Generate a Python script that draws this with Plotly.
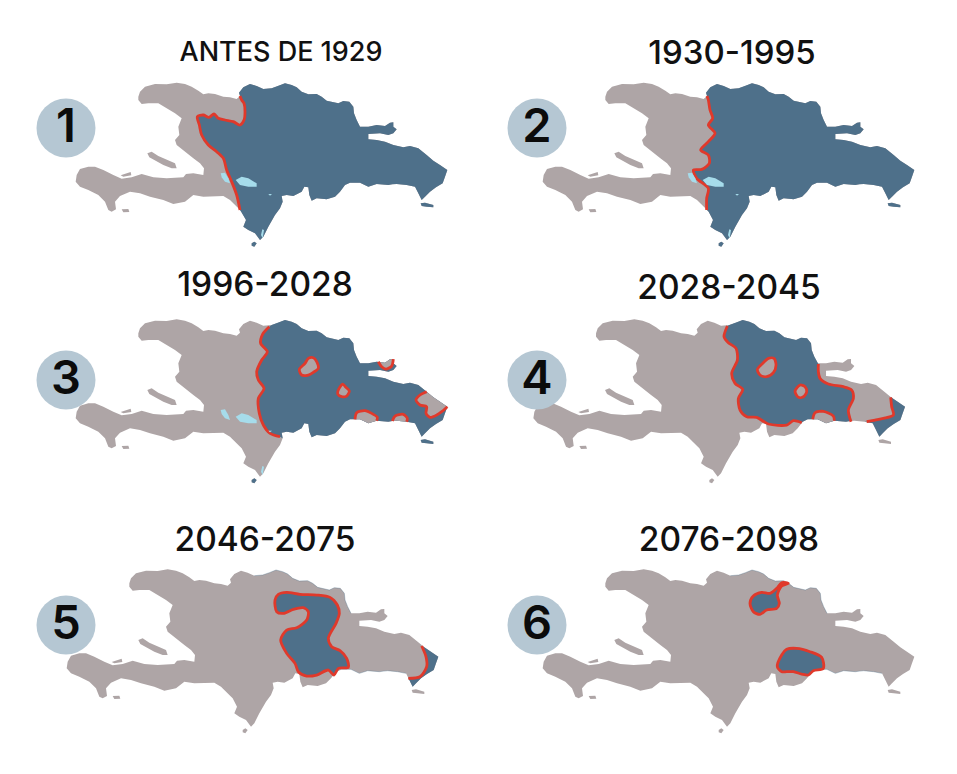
import plotly.graph_objects as go

LAND = "#AEA5A6"
SEA_BLUE = "#4E708A"
RED = "#E0392B"
LAKE = "#A6DCEB"
BADGE = "#B5C7D3"
FONT = "Inter, Noto Sans, sans-serif"

# everything below is in "map units": 3 units = 1 pixel of the picture
ISLAND = [
    (235, 80), (240, 65), (255, 50), (285, 42), (320, 43), (350, 38), (375, 42), (395, 50), (415, 62),
    (430, 73), (445, 70), (465, 72), (490, 80), (510, 82), (530, 87), (540, 78), (537, 68), (550, 52),
    (570, 42), (590, 48), (610, 57), (635, 55), (655, 48), (675, 40), (695, 45), (710, 52), (725, 65),
    (745, 73), (770, 72), (785, 80), (800, 92), (820, 97), (835, 100), (850, 93), (868, 95), (880, 110),
    (882, 130), (890, 150), (900, 170), (925, 170), (950, 165), (975, 168), (990, 158), (1000, 157),
    (1000, 170), (1010, 178), (1000, 190), (985, 195), (960, 190), (925, 192), (925, 208), (950, 210),
    (975, 215), (1000, 225), (1030, 232), (1050, 228), (1075, 235), (1100, 255), (1120, 272), (1140, 285),
    (1162, 300), (1155, 320), (1148, 340), (1128, 352), (1110, 365), (1095, 380), (1085, 390), (1075, 370),
    (1065, 350), (1040, 345), (1010, 342), (997, 343), (985, 345), (950, 342), (925, 350), (900, 338),
    (885, 338), (870, 338), (855, 345), (840, 365), (825, 380), (800, 388), (770, 385), (755, 392),
    (748, 375), (745, 352), (733, 350), (725, 365), (700, 378), (680, 375), (665, 378), (668, 395),
    (660, 415), (645, 435), (625, 470), (610, 500), (600, 510), (585, 490), (565, 480), (550, 470),
    (558, 450), (545, 425), (535, 415), (510, 390), (490, 378), (470, 378), (430, 380), (400, 375),
    (375, 395), (340, 402), (310, 390), (270, 380), (240, 370), (210, 365), (180, 378), (165, 395),
    (168, 418), (155, 425), (145, 420), (135, 395), (115, 375), (85, 360), (60, 350), (47, 335), (50, 315),
    (60, 297), (85, 290), (105, 290), (130, 300), (160, 315), (185, 326), (215, 322), (245, 312),
    (280, 322), (320, 325), (370, 322), (378, 312), (400, 310), (430, 315), (432, 295), (420, 280),
    (400, 265), (375, 245), (350, 225), (345, 210), (358, 195), (355, 170), (365, 145), (345, 130),
    (320, 115), (295, 100), (265, 100), (245, 102), (235, 90),
]
GONAVE = [(262, 250), (275, 245), (295, 258), (320, 268), (345, 280), (350, 295), (335, 295), (310, 285),
          (285, 272), (268, 262)]
SAONA = [(1082, 400), (1095, 398), (1120, 405), (1120, 412), (1100, 410), (1085, 408)]
BEATA = [(575, 520), (583, 515), (590, 520), (583, 530), (575, 527)]
VACHE = [(185, 418), (205, 417), (208, 426), (190, 427)]
CAYEMITES = [(182, 316), (212, 306), (214, 316), (190, 320)]
ISLETS = [GONAVE, SAONA, BEATA, VACHE, CAYEMITES]

ENRIQUILLO = [(527, 330), (545, 320), (565, 325), (590, 340), (590, 350), (565, 350), (540, 345)]
AZUEI = [(482, 310), (495, 308), (505, 325), (510, 340), (495, 335), (485, 322)]
POND = [(625, 372), (636, 372), (630, 377)]
OVIEDO = [(607, 478), (612, 480), (608, 505), (603, 495)]
LAKES = [ENRIQUILLO, AZUEI, POND, OVIEDO]

BORDER_1 = [(540, 78), (545, 90), (552, 100), (555, 125), (552, 150), (540, 165), (520, 155), (495, 150),
            (475, 145), (462, 132), (447, 142), (430, 135), (412, 140), (418, 165), (425, 195), (445, 225),
            (470, 245), (490, 265), (500, 300), (515, 335), (530, 375), (540, 420)]
BORDER_2 = [(540, 78), (544, 90), (549, 120), (557, 145), (544, 165), (564, 190), (544, 215), (521, 240),
            (544, 255), (547, 280), (524, 298), (499, 300), (509, 325), (544, 355), (539, 385), (539, 420)]
BORDER_3 = [(628, 60), (608, 82), (602, 110), (622, 135), (605, 160), (590, 195), (595, 220), (612, 245),
            (595, 275), (598, 320), (610, 355), (630, 380), (660, 390)]
WEST_4 = [(629, 58), (619, 90), (632, 108), (655, 125), (659, 160), (642, 200), (652, 230), (675, 248),
          (662, 275), (667, 310), (687, 330), (717, 332), (752, 352), (807, 355), (827, 342), (852, 348)]
EAST_4 = [(902, 172), (902, 195), (907, 215), (932, 232), (977, 240), (1002, 250), (1007, 275), (992, 310),
          (1000, 345)]
TIP_4 = [(1119, 272), (1122, 300), (1127, 325), (1097, 335), (1072, 340), (1047, 345)]
TIP_5 = [(1112, 268), (1125, 300), (1127, 330), (1107, 360), (1072, 365)]

# red closed blobs, gray inside on panels 3 and 4
BLOB_A_3 = [(718, 188), (735, 170), (745, 155), (760, 153), (770, 165), (775, 185), (760, 197), (745, 205),
            (725, 205), (718, 188)]
BLOB_B_3 = [(835, 250), (848, 232), (858, 242), (868, 253), (860, 268), (845, 270), (833, 262), (835, 250)]
BLOB_A_4 = [(719, 188), (737, 168), (752, 155), (769, 155), (775, 175), (767, 198), (747, 210), (727, 205),
            (719, 188)]
BLOB_B_4 = [(832, 253), (847, 235), (862, 240), (867, 255), (857, 270), (842, 272), (832, 253)]

# gray areas cut off along the coast on panels 3 and 4
SAMANA_3 = [(955, 165), (965, 180), (978, 187), (995, 178), (1000, 157)]
HIGUEY_3 = [(1100, 255), (1080, 265), (1068, 280), (1080, 295), (1100, 300), (1098, 320), (1110, 332),
            (1130, 325), (1145, 315), (1162, 300)]
BANI_3 = [(950, 342), (952, 332), (935, 320), (915, 312), (890, 318), (885, 338)]
SOUTH_3 = [(1040, 345), (1042, 335), (1030, 323), (1005, 328), (997, 343)]
BANI_4 = [(950, 342), (947, 328), (917, 314), (892, 318), (885, 338)]

# blue areas with their own outline on panels 5 and 6
CENTER_5 = [(672, 130), (682, 113), (707, 107), (747, 113), (797, 115), (837, 122), (859, 145), (865, 170),
            (855, 200), (832, 245), (842, 270), (867, 282), (887, 305), (892, 332), (862, 335), (849, 355),
            (832, 340), (797, 355), (767, 358), (742, 345), (732, 320), (707, 290), (689, 250), (707, 220),
            (737, 213), (767, 190), (772, 165), (757, 153), (727, 158), (697, 170), (677, 165), (672, 130)]
NORTH_6 = [(669, 140), (679, 118), (704, 107), (729, 110), (749, 95), (764, 78), (784, 80), (764, 88),
           (751, 115), (757, 140), (749, 155), (719, 160), (699, 173), (679, 165), (669, 140)]
SOUTH_6 = [(751, 330), (764, 295), (779, 278), (809, 275), (849, 285), (884, 302), (889, 335), (859, 342),
           (844, 355), (824, 352), (799, 345), (779, 345), (764, 345), (751, 330)]

# faint blue left along the shore of the mostly gray maps
NORTH_SHORE = [(610, 57), (900, 170)]
SOUTH_SHORE = [(1065, 350), (855, 345)]

PANEL_TITLES = ["ANTES DE 1929", "1930-1995", "1996-2028", "2028-2045", "2046-2075", "2076-2098"]
PANEL_NUMBERS = ["1", "2", "3", "4", "5", "6"]
TITLE_SIZES = [27, 33, 33.5, 33.5, 33.5, 33.5]
# pixel position of the map origin, then of the title and the badge
ORIGIN_X = [60, 527, 60, 517.7, 51, 527]
ORIGIN_Y = [70, 70, 306.7, 306.7, 556.7, 556.7]
TITLE_X = [281, 732, 265, 729, 265, 729]
TITLE_Y = [54, 56, 288, 291, 543, 543]
BADGE_X = [66, 537, 66, 537, 66, 537]
BADGE_Y = [128, 128, 380, 380, 625, 625]
NUMBER_Y = [130, 130, 382, 382, 627, 627]


def coast(start, end):
    def nearest(p):
        return min(range(len(ISLAND)), key=lambda i: (ISLAND[i][0] - p[0]) ** 2 + (ISLAND[i][1] - p[1]) ** 2)

    i, j = nearest(start), nearest(end)
    if j >= i:
        return ISLAND[i:j + 1]
    return ISLAND[i:] + ISLAND[:j + 1]


def add_fill(fig, panel, points, color):
    fig.add_trace(go.Scatter(
        x=[p[0] / 3 + ORIGIN_X[panel] for p in points] + [points[0][0] / 3 + ORIGIN_X[panel]],
        y=[p[1] / 3 + ORIGIN_Y[panel] for p in points] + [points[0][1] / 3 + ORIGIN_Y[panel]],
        mode="lines",
        fill="toself",
        fillcolor=color,
        line=dict(width=0, color=color),
        hoverinfo="skip",
    ))


def add_red(fig, panel, points):
    fig.add_trace(go.Scatter(
        x=[p[0] / 3 + ORIGIN_X[panel] for p in points],
        y=[p[1] / 3 + ORIGIN_Y[panel] for p in points],
        mode="lines",
        line=dict(color=RED, width=2.8, shape="spline", smoothing=0.8),
        hoverinfo="skip",
    ))


def add_shore(fig, panel, stretch):
    points = coast(stretch[0], stretch[1])
    fig.add_trace(go.Scatter(
        x=[p[0] / 3 + ORIGIN_X[panel] for p in points],
        y=[p[1] / 3 + ORIGIN_Y[panel] for p in points],
        mode="lines",
        line=dict(color=SEA_BLUE, width=0.7),
        opacity=0.5,
        hoverinfo="skip",
    ))


def add_cut(fig, panel, path, color):
    # area between the coast and an inland path that runs clockwise along that coast
    add_fill(fig, panel, coast(path[0], path[-1]) + path[::-1], color)
    add_red(fig, panel, path)


def add_blob(fig, panel, points, color):
    add_fill(fig, panel, points, color)
    add_red(fig, panel, points)


fig = go.Figure()

for panel in range(6):
    add_fill(fig, panel, ISLAND, LAND)
    for islet in ISLETS:
        add_fill(fig, panel, islet, LAND)

for panel in (4, 5):
    add_shore(fig, panel, NORTH_SHORE)
    add_shore(fig, panel, SOUTH_SHORE)

# islets drawn blue while that part of the island is blue
for panel in (0, 1, 2):
    add_fill(fig, panel, SAONA, SEA_BLUE)
    add_fill(fig, panel, BEATA, SEA_BLUE)

add_cut(fig, 0, BORDER_1, SEA_BLUE)
add_cut(fig, 1, BORDER_2, SEA_BLUE)
add_cut(fig, 2, BORDER_3, SEA_BLUE)
for panel in (0, 1, 2):
    for lake in LAKES:
        add_fill(fig, panel, lake, LAKE)
for path in (SAMANA_3, HIGUEY_3, BANI_3, SOUTH_3):
    add_cut(fig, 2, path, LAND)
add_blob(fig, 2, BLOB_A_3, LAND)
add_blob(fig, 2, BLOB_B_3, LAND)

# panel 4: the blue area is closed by two borders and two stretches of coast
add_fill(
    fig, 3,
    coast(WEST_4[0], EAST_4[0]) + EAST_4 + coast(EAST_4[-1], WEST_4[-1]) + WEST_4[::-1],
    SEA_BLUE,
)
add_red(fig, 3, WEST_4)
add_red(fig, 3, EAST_4)
add_cut(fig, 3, TIP_4, SEA_BLUE)
add_cut(fig, 3, BANI_4, LAND)
add_blob(fig, 3, BLOB_A_4, LAND)
add_blob(fig, 3, BLOB_B_4, LAND)

add_blob(fig, 4, CENTER_5, SEA_BLUE)
add_cut(fig, 4, TIP_5, SEA_BLUE)

add_blob(fig, 5, NORTH_6, SEA_BLUE)
add_blob(fig, 5, SOUTH_6, SEA_BLUE)

fig.add_trace(go.Scatter(
    x=BADGE_X,
    y=BADGE_Y,
    mode="markers",
    marker=dict(color=BADGE, size=59, line=dict(width=0)),
    hoverinfo="skip",
))
fig.add_trace(go.Scatter(
    x=BADGE_X,
    y=NUMBER_Y,
    mode="text",
    text=PANEL_NUMBERS,
    textposition="middle center",
    textfont=dict(family=FONT, size=47, color="#0B0B0B", weight=600),
    hoverinfo="skip",
))

for title, x, y, size in zip(PANEL_TITLES, TITLE_X, TITLE_Y, TITLE_SIZES):
    fig.add_trace(go.Scatter(
        x=[x],
        y=[y],
        mode="text",
        text=[title],
        textposition="middle center",
        textfont=dict(family=FONT, size=size, color="#111111", weight=500),
        hoverinfo="skip",
    ))

fig.update_layout(
    width=957,
    height=774,
    showlegend=False,
    paper_bgcolor="white",
    plot_bgcolor="white",
    margin=dict(l=0, r=0, t=0, b=0),
)
fig.update_xaxes(range=[0, 957], visible=False, fixedrange=True)
fig.update_yaxes(range=[774, 0], visible=False, fixedrange=True)

fig.write_html(
    "out.html",
    config=dict(displayModeBar=False),
    post_script="document.body.style.margin = '0';",
)
